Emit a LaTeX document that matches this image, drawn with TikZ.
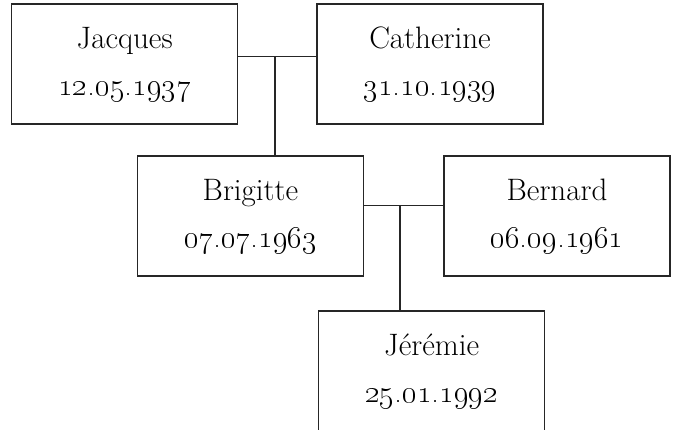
\RequirePackage{fix-cm}
\documentclass[tikz,border=0pt]{standalone}
\begin{document}
\begin{tikzpicture}[x=1pt,y=-1pt,
  person/.style={draw=black!85, line width=1.1pt, minimum width=226pt, minimum height=120pt,
    align=center, inner sep=0pt, font=\fontsize{31}{47}\selectfont},
  link/.style={draw=black!85, line width=1.1pt}]
\useasboundingbox (0,0) rectangle (675,429);
\clip (0,0) rectangle (675,429);
\node[person] (jacques) at (124.7,64) {Jacques\\\oldstylenums{12.05.1937}};
\node[person] (catherine) at (430,64) {Catherine\\\oldstylenums{31.10.1939}};
\node[person] (brigitte) at (250.5,216) {Brigitte\\\oldstylenums{07.07.1963}};
\node[person] (bernard) at (557,216) {Bernard\\\oldstylenums{06.09.1961}};
\node[person] (jeremie) at (431.7,371) {Jérémie\\\oldstylenums{25.01.1992}};
\draw[link] ([yshift=7.3pt]jacques.east) -- ([yshift=7.3pt]catherine.west);
\coordinate (m1) at (275,56.7);
\draw[link] (m1) -- (m1 |- brigitte.north);
\draw[link] ([yshift=10.3pt]brigitte.east) -- ([yshift=10.3pt]bernard.west);
\coordinate (m2) at (400,205.7);
\draw[link] (m2) -- (m2 |- jeremie.north);
\end{tikzpicture}
\end{document}
